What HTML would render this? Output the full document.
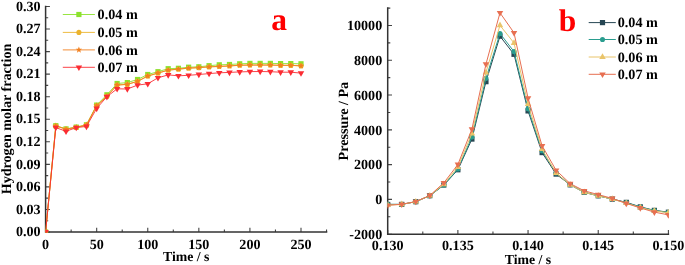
<!DOCTYPE html><html><head><meta charset="utf-8"><style>html,body{margin:0;padding:0;background:#fff;overflow:hidden;}svg{display:block;will-change:transform;}text{font-family:"Liberation Serif", serif;font-weight:bold;fill:#000;stroke:none;text-rendering:geometricPrecision;}text.r{fill:#f00;}</style></head><body>
<svg width="685" height="265" viewBox="0 0 685 265">
<defs>
<clipPath id="ca"><rect x="45.6" y="0" width="283.94" height="232.80"/></clipPath>
<clipPath id="cb"><rect x="387.50" y="0" width="281.40" height="235.00"/></clipPath>
</defs>
<rect width="685" height="265" fill="#fff"/>
<path d="M45.60 232.00H49.90 M45.60 220.72H48.20 M45.60 209.45H49.90 M45.60 198.17H48.20 M45.60 186.90H49.90 M45.60 175.62H48.20 M45.60 164.35H49.90 M45.60 153.07H48.20 M45.60 141.80H49.90 M45.60 130.52H48.20 M45.60 119.24H49.90 M45.60 107.97H48.20 M45.60 96.69H49.90 M45.60 85.42H48.20 M45.60 74.14H49.90 M45.60 62.87H48.20 M45.60 51.59H49.90 M45.60 40.32H48.20 M45.60 29.04H49.90 M45.60 17.77H48.20 M45.60 6.49H49.90 M45.60 232.00V227.70 M71.14 232.00V229.40 M96.68 232.00V227.70 M122.22 232.00V229.40 M147.76 232.00V227.70 M173.30 232.00V229.40 M198.84 232.00V227.70 M224.38 232.00V229.40 M249.92 232.00V227.70 M275.46 232.00V229.40 M301.00 232.00V227.70 M326.54 232.00V229.40" stroke="#444" stroke-width="1.1" fill="none"/>
<path d="M45.6 6.49V232.0H326.54" stroke="#333" stroke-width="1.5" fill="none" stroke-linecap="square"/>
<text x="40.6" y="236.20" font-size="14.1" text-anchor="end">0.00</text>
<text x="40.6" y="213.65" font-size="14.1" text-anchor="end">0.03</text>
<text x="40.6" y="191.10" font-size="14.1" text-anchor="end">0.06</text>
<text x="40.6" y="168.55" font-size="14.1" text-anchor="end">0.09</text>
<text x="40.6" y="146.00" font-size="14.1" text-anchor="end">0.12</text>
<text x="40.6" y="123.44" font-size="14.1" text-anchor="end">0.15</text>
<text x="40.6" y="100.89" font-size="14.1" text-anchor="end">0.18</text>
<text x="40.6" y="78.34" font-size="14.1" text-anchor="end">0.21</text>
<text x="40.6" y="55.79" font-size="14.1" text-anchor="end">0.24</text>
<text x="40.6" y="33.24" font-size="14.1" text-anchor="end">0.27</text>
<text x="40.6" y="10.69" font-size="14.1" text-anchor="end">0.30</text>
<text x="45.60" y="248.6" font-size="14.1" text-anchor="middle">0</text>
<text x="96.68" y="248.6" font-size="14.1" text-anchor="middle">50</text>
<text x="147.76" y="248.6" font-size="14.1" text-anchor="middle">100</text>
<text x="198.84" y="248.6" font-size="14.1" text-anchor="middle">150</text>
<text x="249.92" y="248.6" font-size="14.1" text-anchor="middle">200</text>
<text x="301.00" y="248.6" font-size="14.1" text-anchor="middle">250</text>
<text x="186.2" y="260.6" font-size="13.8" text-anchor="middle">Time / s</text>
<text transform="translate(10.6 119.0) rotate(-90)" font-size="14.1" text-anchor="middle">Hydrogen molar fraction</text>
<text x="271.2" y="30.3" font-size="31.5" class="r">a</text>
<g clip-path="url(#ca)">
<polyline points="45.60,232.00 55.82,125.70 66.03,128.90 76.25,127.10 86.46,124.80 96.68,105.10 106.90,94.80 117.11,83.50 127.33,82.60 137.54,79.50 147.76,74.50 157.98,71.70 168.19,68.70 178.41,68.30 188.62,67.20 198.84,66.80 209.06,65.70 219.27,64.80 229.49,64.50 239.70,63.80 249.92,63.40 260.14,63.40 270.35,63.40 280.57,63.60 290.78,63.60 301.00,63.80" fill="none" stroke="#8ce22d" stroke-width="0.9" stroke-linejoin="round"/>
<rect x="43.00" y="229.40" width="5.20" height="5.20" fill="#8ce22d"/><rect x="53.22" y="123.10" width="5.20" height="5.20" fill="#8ce22d"/><rect x="63.43" y="126.30" width="5.20" height="5.20" fill="#8ce22d"/><rect x="73.65" y="124.50" width="5.20" height="5.20" fill="#8ce22d"/><rect x="83.86" y="122.20" width="5.20" height="5.20" fill="#8ce22d"/><rect x="94.08" y="102.50" width="5.20" height="5.20" fill="#8ce22d"/><rect x="104.30" y="92.20" width="5.20" height="5.20" fill="#8ce22d"/><rect x="114.51" y="80.90" width="5.20" height="5.20" fill="#8ce22d"/><rect x="124.73" y="80.00" width="5.20" height="5.20" fill="#8ce22d"/><rect x="134.94" y="76.90" width="5.20" height="5.20" fill="#8ce22d"/><rect x="145.16" y="71.90" width="5.20" height="5.20" fill="#8ce22d"/><rect x="155.38" y="69.10" width="5.20" height="5.20" fill="#8ce22d"/><rect x="165.59" y="66.10" width="5.20" height="5.20" fill="#8ce22d"/><rect x="175.81" y="65.70" width="5.20" height="5.20" fill="#8ce22d"/><rect x="186.02" y="64.60" width="5.20" height="5.20" fill="#8ce22d"/><rect x="196.24" y="64.20" width="5.20" height="5.20" fill="#8ce22d"/><rect x="206.46" y="63.10" width="5.20" height="5.20" fill="#8ce22d"/><rect x="216.67" y="62.20" width="5.20" height="5.20" fill="#8ce22d"/><rect x="226.89" y="61.90" width="5.20" height="5.20" fill="#8ce22d"/><rect x="237.10" y="61.20" width="5.20" height="5.20" fill="#8ce22d"/><rect x="247.32" y="60.80" width="5.20" height="5.20" fill="#8ce22d"/><rect x="257.54" y="60.80" width="5.20" height="5.20" fill="#8ce22d"/><rect x="267.75" y="60.80" width="5.20" height="5.20" fill="#8ce22d"/><rect x="277.97" y="61.00" width="5.20" height="5.20" fill="#8ce22d"/><rect x="288.18" y="61.00" width="5.20" height="5.20" fill="#8ce22d"/><rect x="298.40" y="61.20" width="5.20" height="5.20" fill="#8ce22d"/>
<polyline points="45.60,232.10 55.82,126.00 66.03,129.20 76.25,127.40 86.46,125.10 96.68,105.70 106.90,96.30 117.11,85.10 127.33,84.40 137.54,81.40 147.76,76.10 157.98,73.10 168.19,70.20 178.41,69.20 188.62,68.20 198.84,67.70 209.06,66.90 219.27,66.50 229.49,66.00 239.70,65.30 249.92,65.10 260.14,65.10 270.35,65.10 280.57,65.40 290.78,65.40 301.00,65.90" fill="none" stroke="#ebb32e" stroke-width="0.9" stroke-linejoin="round"/>
<circle cx="45.60" cy="232.10" r="2.55" fill="#ebb32e"/><circle cx="55.82" cy="126.00" r="2.55" fill="#ebb32e"/><circle cx="66.03" cy="129.20" r="2.55" fill="#ebb32e"/><circle cx="76.25" cy="127.40" r="2.55" fill="#ebb32e"/><circle cx="86.46" cy="125.10" r="2.55" fill="#ebb32e"/><circle cx="96.68" cy="105.70" r="2.55" fill="#ebb32e"/><circle cx="106.90" cy="96.30" r="2.55" fill="#ebb32e"/><circle cx="117.11" cy="85.10" r="2.55" fill="#ebb32e"/><circle cx="127.33" cy="84.40" r="2.55" fill="#ebb32e"/><circle cx="137.54" cy="81.40" r="2.55" fill="#ebb32e"/><circle cx="147.76" cy="76.10" r="2.55" fill="#ebb32e"/><circle cx="157.98" cy="73.10" r="2.55" fill="#ebb32e"/><circle cx="168.19" cy="70.20" r="2.55" fill="#ebb32e"/><circle cx="178.41" cy="69.20" r="2.55" fill="#ebb32e"/><circle cx="188.62" cy="68.20" r="2.55" fill="#ebb32e"/><circle cx="198.84" cy="67.70" r="2.55" fill="#ebb32e"/><circle cx="209.06" cy="66.90" r="2.55" fill="#ebb32e"/><circle cx="219.27" cy="66.50" r="2.55" fill="#ebb32e"/><circle cx="229.49" cy="66.00" r="2.55" fill="#ebb32e"/><circle cx="239.70" cy="65.30" r="2.55" fill="#ebb32e"/><circle cx="249.92" cy="65.10" r="2.55" fill="#ebb32e"/><circle cx="260.14" cy="65.10" r="2.55" fill="#ebb32e"/><circle cx="270.35" cy="65.10" r="2.55" fill="#ebb32e"/><circle cx="280.57" cy="65.40" r="2.55" fill="#ebb32e"/><circle cx="290.78" cy="65.40" r="2.55" fill="#ebb32e"/><circle cx="301.00" cy="65.90" r="2.55" fill="#ebb32e"/>
<polyline points="45.60,232.00 55.82,125.90 66.03,129.10 76.25,127.30 86.46,125.00 96.68,105.60 106.90,96.20 117.11,85.00 127.33,84.30 137.54,81.30 147.76,76.00 157.98,73.00 168.19,70.10 178.41,69.10 188.62,68.10 198.84,67.60 209.06,66.80 219.27,66.40 229.49,65.90 239.70,65.20 249.92,65.00 260.14,65.00 270.35,65.00 280.57,65.30 290.78,65.30 301.00,65.80" fill="none" stroke="#f2801f" stroke-width="0.9" stroke-linejoin="round"/>
<polygon points="45.60,228.60 46.44,230.84 48.83,230.95 46.96,232.44 47.60,234.75 45.60,233.43 43.60,234.75 44.24,232.44 42.37,230.95 44.76,230.84" fill="#f2801f"/><polygon points="55.82,122.50 56.66,124.74 59.05,124.85 57.17,126.34 57.81,128.65 55.82,127.33 53.82,128.65 54.46,126.34 52.58,124.85 54.98,124.74" fill="#f2801f"/><polygon points="66.03,125.70 66.87,127.94 69.27,128.05 67.39,129.54 68.03,131.85 66.03,130.53 64.03,131.85 64.67,129.54 62.80,128.05 65.19,127.94" fill="#f2801f"/><polygon points="76.25,123.90 77.09,126.14 79.48,126.25 77.61,127.74 78.25,130.05 76.25,128.73 74.25,130.05 74.89,127.74 73.01,126.25 75.41,126.14" fill="#f2801f"/><polygon points="86.46,121.60 87.30,123.84 89.70,123.95 87.82,125.44 88.46,127.75 86.46,126.43 84.47,127.75 85.11,125.44 83.23,123.95 85.62,123.84" fill="#f2801f"/><polygon points="96.68,102.20 97.52,104.44 99.91,104.55 98.04,106.04 98.68,108.35 96.68,107.03 94.68,108.35 95.32,106.04 93.45,104.55 95.84,104.44" fill="#f2801f"/><polygon points="106.90,92.80 107.74,95.04 110.13,95.15 108.25,96.64 108.89,98.95 106.90,97.63 104.90,98.95 105.54,96.64 103.66,95.15 106.06,95.04" fill="#f2801f"/><polygon points="117.11,81.60 117.95,83.84 120.35,83.95 118.47,85.44 119.11,87.75 117.11,86.43 115.11,87.75 115.75,85.44 113.88,83.95 116.27,83.84" fill="#f2801f"/><polygon points="127.33,80.90 128.17,83.14 130.56,83.25 128.69,84.74 129.33,87.05 127.33,85.73 125.33,87.05 125.97,84.74 124.09,83.25 126.49,83.14" fill="#f2801f"/><polygon points="137.54,77.90 138.38,80.14 140.78,80.25 138.90,81.74 139.54,84.05 137.54,82.73 135.55,84.05 136.19,81.74 134.31,80.25 136.70,80.14" fill="#f2801f"/><polygon points="147.76,72.60 148.60,74.84 150.99,74.95 149.12,76.44 149.76,78.75 147.76,77.43 145.76,78.75 146.40,76.44 144.53,74.95 146.92,74.84" fill="#f2801f"/><polygon points="157.98,69.60 158.82,71.84 161.21,71.95 159.33,73.44 159.97,75.75 157.98,74.43 155.98,75.75 156.62,73.44 154.74,71.95 157.14,71.84" fill="#f2801f"/><polygon points="168.19,66.70 169.03,68.94 171.43,69.05 169.55,70.54 170.19,72.85 168.19,71.53 166.19,72.85 166.83,70.54 164.96,69.05 167.35,68.94" fill="#f2801f"/><polygon points="178.41,65.70 179.25,67.94 181.64,68.05 179.77,69.54 180.41,71.85 178.41,70.53 176.41,71.85 177.05,69.54 175.17,68.05 177.57,67.94" fill="#f2801f"/><polygon points="188.62,64.70 189.46,66.94 191.86,67.05 189.98,68.54 190.62,70.85 188.62,69.53 186.63,70.85 187.27,68.54 185.39,67.05 187.78,66.94" fill="#f2801f"/><polygon points="198.84,64.20 199.68,66.44 202.07,66.55 200.20,68.04 200.84,70.35 198.84,69.03 196.84,70.35 197.48,68.04 195.61,66.55 198.00,66.44" fill="#f2801f"/><polygon points="209.06,63.40 209.90,65.64 212.29,65.75 210.41,67.24 211.05,69.55 209.06,68.23 207.06,69.55 207.70,67.24 205.82,65.75 208.22,65.64" fill="#f2801f"/><polygon points="219.27,63.00 220.11,65.24 222.51,65.35 220.63,66.84 221.27,69.15 219.27,67.83 217.27,69.15 217.91,66.84 216.04,65.35 218.43,65.24" fill="#f2801f"/><polygon points="229.49,62.50 230.33,64.74 232.72,64.85 230.85,66.34 231.49,68.65 229.49,67.33 227.49,68.65 228.13,66.34 226.25,64.85 228.65,64.74" fill="#f2801f"/><polygon points="239.70,61.80 240.54,64.04 242.94,64.15 241.06,65.64 241.70,67.95 239.70,66.63 237.71,67.95 238.35,65.64 236.47,64.15 238.86,64.04" fill="#f2801f"/><polygon points="249.92,61.60 250.76,63.84 253.15,63.95 251.28,65.44 251.92,67.75 249.92,66.43 247.92,67.75 248.56,65.44 246.69,63.95 249.08,63.84" fill="#f2801f"/><polygon points="260.14,61.60 260.98,63.84 263.37,63.95 261.49,65.44 262.13,67.75 260.14,66.43 258.14,67.75 258.78,65.44 256.90,63.95 259.30,63.84" fill="#f2801f"/><polygon points="270.35,61.60 271.19,63.84 273.59,63.95 271.71,65.44 272.35,67.75 270.35,66.43 268.35,67.75 268.99,65.44 267.12,63.95 269.51,63.84" fill="#f2801f"/><polygon points="280.57,61.90 281.41,64.14 283.80,64.25 281.93,65.74 282.57,68.05 280.57,66.73 278.57,68.05 279.21,65.74 277.33,64.25 279.73,64.14" fill="#f2801f"/><polygon points="290.78,61.90 291.62,64.14 294.02,64.25 292.14,65.74 292.78,68.05 290.78,66.73 288.79,68.05 289.43,65.74 287.55,64.25 289.94,64.14" fill="#f2801f"/><polygon points="301.00,62.40 301.84,64.64 304.23,64.75 302.36,66.24 303.00,68.55 301.00,67.23 299.00,68.55 299.64,66.24 297.77,64.75 300.16,64.64" fill="#f2801f"/>
<polyline points="45.60,232.00 55.82,127.60 66.03,131.30 76.25,127.60 86.46,126.40 96.68,108.40 106.90,96.70 117.11,88.80 127.33,89.00 137.54,85.10 147.76,83.80 157.98,77.80 168.19,74.90 178.41,75.80 188.62,75.30 198.84,74.50 209.06,73.60 219.27,72.80 229.49,72.40 239.70,71.90 249.92,71.60 260.14,71.50 270.35,71.70 280.57,72.20 290.78,72.20 301.00,73.10" fill="none" stroke="#fb2c33" stroke-width="0.9" stroke-linejoin="round"/>
<path d="M42.35 230.12L48.85 230.12L45.60 235.77Z" fill="#fb2c33"/><path d="M52.57 125.71L59.07 125.71L55.82 131.37Z" fill="#fb2c33"/><path d="M62.78 129.42L69.28 129.42L66.03 135.07Z" fill="#fb2c33"/><path d="M73.00 125.71L79.50 125.71L76.25 131.37Z" fill="#fb2c33"/><path d="M83.21 124.52L89.71 124.52L86.46 130.17Z" fill="#fb2c33"/><path d="M93.43 106.52L99.93 106.52L96.68 112.17Z" fill="#fb2c33"/><path d="M103.65 94.81L110.15 94.81L106.90 100.47Z" fill="#fb2c33"/><path d="M113.86 86.91L120.36 86.91L117.11 92.57Z" fill="#fb2c33"/><path d="M124.08 87.11L130.58 87.11L127.33 92.77Z" fill="#fb2c33"/><path d="M134.29 83.21L140.79 83.21L137.54 88.87Z" fill="#fb2c33"/><path d="M144.51 81.91L151.01 81.91L147.76 87.57Z" fill="#fb2c33"/><path d="M154.73 75.91L161.23 75.91L157.98 81.57Z" fill="#fb2c33"/><path d="M164.94 73.02L171.44 73.02L168.19 78.67Z" fill="#fb2c33"/><path d="M175.16 73.91L181.66 73.91L178.41 79.57Z" fill="#fb2c33"/><path d="M185.37 73.41L191.87 73.41L188.62 79.07Z" fill="#fb2c33"/><path d="M195.59 72.61L202.09 72.61L198.84 78.27Z" fill="#fb2c33"/><path d="M205.81 71.71L212.31 71.71L209.06 77.37Z" fill="#fb2c33"/><path d="M216.02 70.91L222.52 70.91L219.27 76.57Z" fill="#fb2c33"/><path d="M226.24 70.52L232.74 70.52L229.49 76.17Z" fill="#fb2c33"/><path d="M236.45 70.02L242.95 70.02L239.70 75.67Z" fill="#fb2c33"/><path d="M246.67 69.71L253.17 69.71L249.92 75.37Z" fill="#fb2c33"/><path d="M256.89 69.61L263.39 69.61L260.14 75.27Z" fill="#fb2c33"/><path d="M267.10 69.81L273.60 69.81L270.35 75.47Z" fill="#fb2c33"/><path d="M277.32 70.31L283.82 70.31L280.57 75.97Z" fill="#fb2c33"/><path d="M287.53 70.31L294.03 70.31L290.78 75.97Z" fill="#fb2c33"/><path d="M297.75 71.21L304.25 71.21L301.00 76.87Z" fill="#fb2c33"/>
</g>
<path d="M62.8 14.5H94.9" stroke="#8ce22d" stroke-width="0.9"/>
<rect x="76.30" y="11.90" width="5.20" height="5.20" fill="#8ce22d"/>
<text x="97.6" y="19.20" font-size="14.2">0.04 m</text>
<path d="M62.8 32.4H94.9" stroke="#ebb32e" stroke-width="0.9"/>
<circle cx="78.90" cy="32.40" r="2.55" fill="#ebb32e"/>
<text x="97.6" y="37.10" font-size="14.2">0.05 m</text>
<path d="M62.8 49.9H94.9" stroke="#f2801f" stroke-width="0.9"/>
<polygon points="78.90,46.50 79.74,48.74 82.13,48.85 80.26,50.34 80.90,52.65 78.90,51.33 76.90,52.65 77.54,50.34 75.67,48.85 78.06,48.74" fill="#f2801f"/>
<text x="97.6" y="54.60" font-size="14.2">0.06 m</text>
<path d="M62.8 67.3H94.9" stroke="#fb2c33" stroke-width="0.9"/>
<path d="M75.65 65.41L82.15 65.41L78.90 71.07Z" fill="#fb2c33"/>
<text x="97.6" y="72.00" font-size="14.2">0.07 m</text>
<path d="M387.7 234.20H392.00 M387.7 216.81H390.30 M387.7 199.42H392.00 M387.7 182.02H390.30 M387.7 164.63H392.00 M387.7 147.24H390.30 M387.7 129.85H392.00 M387.7 112.46H390.30 M387.7 95.06H392.00 M387.7 77.67H390.30 M387.7 60.28H392.00 M387.7 42.89H390.30 M387.7 25.50H392.00 M387.7 8.10H390.30 M387.70 234.2V229.90 M422.79 234.2V231.60 M457.88 234.2V229.90 M492.96 234.2V231.60 M528.05 234.2V229.90 M563.14 234.2V231.60 M598.23 234.2V229.90 M633.31 234.2V231.60 M668.40 234.2V229.90" stroke="#444" stroke-width="1.1" fill="none"/>
<path d="M387.7 8.10V234.2H668.40" stroke="#333" stroke-width="1.5" fill="none" stroke-linecap="square"/>
<text x="382.2" y="238.90" font-size="14.1" text-anchor="end">-2000</text>
<text x="382.2" y="204.12" font-size="14.1" text-anchor="end">0</text>
<text x="382.2" y="169.33" font-size="14.1" text-anchor="end">2000</text>
<text x="382.2" y="134.55" font-size="14.1" text-anchor="end">4000</text>
<text x="382.2" y="99.76" font-size="14.1" text-anchor="end">6000</text>
<text x="382.2" y="64.98" font-size="14.1" text-anchor="end">8000</text>
<text x="382.2" y="30.20" font-size="14.1" text-anchor="end">10000</text>
<text x="387.70" y="249.9" font-size="14.1" text-anchor="middle">0.130</text>
<text x="457.88" y="249.9" font-size="14.1" text-anchor="middle">0.135</text>
<text x="528.05" y="249.9" font-size="14.1" text-anchor="middle">0.140</text>
<text x="598.23" y="249.9" font-size="14.1" text-anchor="middle">0.145</text>
<text x="668.40" y="249.9" font-size="14.1" text-anchor="middle">0.150</text>
<text x="528" y="264.0" font-size="13.8" text-anchor="middle">Time / s</text>
<text transform="translate(348.1 121.15) rotate(-90)" font-size="14.1" text-anchor="middle">Pressure / Pa</text>
<text x="558.8" y="31.2" font-size="31.5" class="r">b</text>
<g clip-path="url(#cb)">
<polyline points="387.70,204.46 401.74,204.39 415.77,201.69 429.81,195.69 443.84,185.03 457.88,169.75 471.91,139.07 485.95,81.67 499.98,36.19 514.02,54.30 528.05,110.91 542.09,152.60 556.12,174.09 570.16,184.81 584.19,192.30 598.23,195.80 612.26,199.10 626.30,202.37 640.33,206.89 654.36,210.37 668.40,212.20" fill="none" stroke="#264653" stroke-width="1.0" stroke-linejoin="round"/>
<rect x="385.10" y="201.86" width="5.20" height="5.20" fill="#264653"/><rect x="399.13" y="201.79" width="5.20" height="5.20" fill="#264653"/><rect x="413.17" y="199.09" width="5.20" height="5.20" fill="#264653"/><rect x="427.20" y="193.09" width="5.20" height="5.20" fill="#264653"/><rect x="441.24" y="182.43" width="5.20" height="5.20" fill="#264653"/><rect x="455.28" y="167.15" width="5.20" height="5.20" fill="#264653"/><rect x="469.31" y="136.47" width="5.20" height="5.20" fill="#264653"/><rect x="483.35" y="79.07" width="5.20" height="5.20" fill="#264653"/><rect x="497.38" y="33.59" width="5.20" height="5.20" fill="#264653"/><rect x="511.42" y="51.70" width="5.20" height="5.20" fill="#264653"/><rect x="525.45" y="108.31" width="5.20" height="5.20" fill="#264653"/><rect x="539.49" y="150.00" width="5.20" height="5.20" fill="#264653"/><rect x="553.52" y="171.49" width="5.20" height="5.20" fill="#264653"/><rect x="567.56" y="182.21" width="5.20" height="5.20" fill="#264653"/><rect x="581.59" y="189.70" width="5.20" height="5.20" fill="#264653"/><rect x="595.63" y="193.20" width="5.20" height="5.20" fill="#264653"/><rect x="609.66" y="196.50" width="5.20" height="5.20" fill="#264653"/><rect x="623.70" y="199.77" width="5.20" height="5.20" fill="#264653"/><rect x="637.73" y="204.29" width="5.20" height="5.20" fill="#264653"/><rect x="651.76" y="207.77" width="5.20" height="5.20" fill="#264653"/><rect x="665.80" y="209.60" width="5.20" height="5.20" fill="#264653"/>
<polyline points="387.70,204.30 401.74,204.39 415.77,201.69 429.81,195.69 443.84,185.03 457.88,169.05 471.91,136.98 485.95,78.37 499.98,33.50 514.02,51.58 528.05,108.70 542.09,150.81 556.12,173.00 570.16,184.81 584.19,192.30 598.23,195.80 612.26,199.10 626.30,202.63 640.33,207.16 654.36,210.63 668.40,212.37" fill="none" stroke="#2a9d8f" stroke-width="1.0" stroke-linejoin="round"/>
<circle cx="387.70" cy="204.30" r="2.55" fill="#2a9d8f"/><circle cx="401.74" cy="204.39" r="2.55" fill="#2a9d8f"/><circle cx="415.77" cy="201.69" r="2.55" fill="#2a9d8f"/><circle cx="429.81" cy="195.69" r="2.55" fill="#2a9d8f"/><circle cx="443.84" cy="185.03" r="2.55" fill="#2a9d8f"/><circle cx="457.88" cy="169.05" r="2.55" fill="#2a9d8f"/><circle cx="471.91" cy="136.98" r="2.55" fill="#2a9d8f"/><circle cx="485.95" cy="78.37" r="2.55" fill="#2a9d8f"/><circle cx="499.98" cy="33.50" r="2.55" fill="#2a9d8f"/><circle cx="514.02" cy="51.58" r="2.55" fill="#2a9d8f"/><circle cx="528.05" cy="108.70" r="2.55" fill="#2a9d8f"/><circle cx="542.09" cy="150.81" r="2.55" fill="#2a9d8f"/><circle cx="556.12" cy="173.00" r="2.55" fill="#2a9d8f"/><circle cx="570.16" cy="184.81" r="2.55" fill="#2a9d8f"/><circle cx="584.19" cy="192.30" r="2.55" fill="#2a9d8f"/><circle cx="598.23" cy="195.80" r="2.55" fill="#2a9d8f"/><circle cx="612.26" cy="199.10" r="2.55" fill="#2a9d8f"/><circle cx="626.30" cy="202.63" r="2.55" fill="#2a9d8f"/><circle cx="640.33" cy="207.16" r="2.55" fill="#2a9d8f"/><circle cx="654.36" cy="210.63" r="2.55" fill="#2a9d8f"/><circle cx="668.40" cy="212.37" r="2.55" fill="#2a9d8f"/>
<polyline points="387.70,205.10 401.74,204.39 415.77,201.69 429.81,195.69 443.84,184.28 457.88,167.00 471.91,133.50 485.95,72.51 499.98,25.39 514.02,42.99 528.05,104.19 542.09,149.21 556.12,173.00 570.16,184.81 584.19,192.30 598.23,195.80 612.26,199.10 626.30,203.16 640.33,207.50 654.36,210.98 668.40,212.72" fill="none" stroke="#e9c46a" stroke-width="1.0" stroke-linejoin="round"/>
<path d="M387.70 201.33L390.95 206.99L384.45 206.99Z" fill="#e9c46a"/><path d="M401.74 200.62L404.99 206.28L398.49 206.28Z" fill="#e9c46a"/><path d="M415.77 197.92L419.02 203.58L412.52 203.58Z" fill="#e9c46a"/><path d="M429.81 191.92L433.06 197.58L426.56 197.58Z" fill="#e9c46a"/><path d="M443.84 180.51L447.09 186.17L440.59 186.17Z" fill="#e9c46a"/><path d="M457.88 163.23L461.13 168.88L454.63 168.88Z" fill="#e9c46a"/><path d="M471.91 129.73L475.16 135.39L468.66 135.39Z" fill="#e9c46a"/><path d="M485.95 68.74L489.20 74.39L482.70 74.39Z" fill="#e9c46a"/><path d="M499.98 21.62L503.23 27.28L496.73 27.28Z" fill="#e9c46a"/><path d="M514.02 39.22L517.27 44.88L510.77 44.88Z" fill="#e9c46a"/><path d="M528.05 100.42L531.30 106.08L524.80 106.08Z" fill="#e9c46a"/><path d="M542.09 145.44L545.34 151.09L538.84 151.09Z" fill="#e9c46a"/><path d="M556.12 169.23L559.37 174.88L552.87 174.88Z" fill="#e9c46a"/><path d="M570.16 181.04L573.41 186.69L566.91 186.69Z" fill="#e9c46a"/><path d="M584.19 188.53L587.44 194.19L580.94 194.19Z" fill="#e9c46a"/><path d="M598.23 192.03L601.48 197.68L594.98 197.68Z" fill="#e9c46a"/><path d="M612.26 195.33L615.51 200.99L609.01 200.99Z" fill="#e9c46a"/><path d="M626.30 199.39L629.55 205.04L623.05 205.04Z" fill="#e9c46a"/><path d="M640.33 203.73L643.58 209.39L637.08 209.39Z" fill="#e9c46a"/><path d="M654.36 207.21L657.61 212.87L651.11 212.87Z" fill="#e9c46a"/><path d="M668.40 208.95L671.65 214.61L665.15 214.61Z" fill="#e9c46a"/>
<polyline points="387.70,205.29 401.74,204.27 415.77,201.57 429.81,195.49 443.84,182.82 457.88,164.49 471.91,129.20 485.95,64.19 499.98,12.80 514.02,32.80 528.05,98.11 542.09,145.80 556.12,170.30 570.16,183.61 584.19,190.81 598.23,194.60 612.26,198.41 626.30,203.40 640.33,207.94 654.36,212.11 668.40,214.89" fill="none" stroke="#e76f51" stroke-width="1.0" stroke-linejoin="round"/>
<path d="M384.45 203.41L390.95 203.41L387.70 209.06Z" fill="#e76f51"/><path d="M398.49 202.38L404.99 202.38L401.74 208.04Z" fill="#e76f51"/><path d="M412.52 199.69L419.02 199.69L415.77 205.34Z" fill="#e76f51"/><path d="M426.56 193.60L433.06 193.60L429.81 199.26Z" fill="#e76f51"/><path d="M440.59 180.94L447.09 180.94L443.84 186.59Z" fill="#e76f51"/><path d="M454.63 162.61L461.13 162.61L457.88 168.26Z" fill="#e76f51"/><path d="M468.66 127.32L475.16 127.32L471.91 132.97Z" fill="#e76f51"/><path d="M482.70 62.31L489.20 62.31L485.95 67.96Z" fill="#e76f51"/><path d="M496.73 10.91L503.23 10.91L499.98 16.57Z" fill="#e76f51"/><path d="M510.77 30.92L517.27 30.92L514.02 36.57Z" fill="#e76f51"/><path d="M524.80 96.22L531.30 96.22L528.05 101.88Z" fill="#e76f51"/><path d="M538.84 143.91L545.34 143.91L542.09 149.57Z" fill="#e76f51"/><path d="M552.87 168.42L559.37 168.42L556.12 174.07Z" fill="#e76f51"/><path d="M566.91 181.72L573.41 181.72L570.16 187.38Z" fill="#e76f51"/><path d="M580.94 188.92L587.44 188.92L584.19 194.58Z" fill="#e76f51"/><path d="M594.98 192.71L601.48 192.71L598.23 198.37Z" fill="#e76f51"/><path d="M609.01 196.52L615.51 196.52L612.26 202.18Z" fill="#e76f51"/><path d="M623.05 201.51L629.55 201.51L626.30 207.17Z" fill="#e76f51"/><path d="M637.08 206.05L643.58 206.05L640.33 211.71Z" fill="#e76f51"/><path d="M651.11 210.23L657.61 210.23L654.36 215.88Z" fill="#e76f51"/><path d="M665.15 213.01L671.65 213.01L668.40 218.66Z" fill="#e76f51"/>
</g>
<path d="M588.7 22.6H615.8" stroke="#264653" stroke-width="1.0"/>
<rect x="599.90" y="20.00" width="5.20" height="5.20" fill="#264653"/>
<text x="617.7" y="27.30" font-size="14.2">0.04 m</text>
<path d="M588.7 39.5H615.8" stroke="#2a9d8f" stroke-width="1.0"/>
<circle cx="602.50" cy="39.50" r="2.55" fill="#2a9d8f"/>
<text x="617.7" y="44.20" font-size="14.2">0.05 m</text>
<path d="M588.7 57.0H615.8" stroke="#e9c46a" stroke-width="1.0"/>
<path d="M602.50 53.23L605.75 58.88L599.25 58.88Z" fill="#e9c46a"/>
<text x="617.7" y="61.70" font-size="14.2">0.06 m</text>
<path d="M588.7 74.3H615.8" stroke="#e76f51" stroke-width="1.0"/>
<path d="M599.25 72.41L605.75 72.41L602.50 78.07Z" fill="#e76f51"/>
<text x="617.7" y="79.00" font-size="14.2">0.07 m</text>
</svg></body></html>
